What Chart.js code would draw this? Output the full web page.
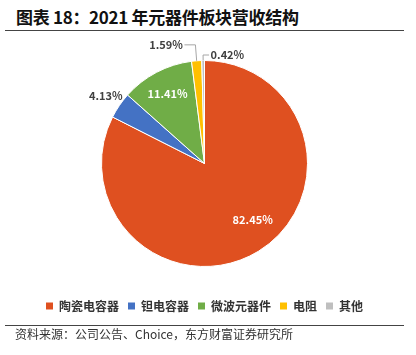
<!DOCTYPE html>
<html>
<head>
<meta charset="utf-8">
<script src="https://cdn.jsdelivr.net/npm/chart.js@4/dist/chart.umd.min.js"></script>
<style>
html,body{margin:0;padding:0;background:#fff;width:416px;height:355px;overflow:hidden;font-family:"Noto Sans CJK SC",sans-serif;}
#title{position:absolute;left:16px;top:6px;font-size:17px;font-weight:bold;color:#111;white-space:nowrap;line-height:22px;letter-spacing:-0.3px;}
.rule{position:absolute;left:5px;width:399px;height:1px;background:#444;}
#src{position:absolute;left:15px;top:326px;font-size:12px;color:#333;white-space:nowrap;line-height:16px;}
#c{position:absolute;left:0;top:0;}
</style>
</head>
<body>
<div id="title">图表 18：2021 年元器件板块营收结构</div>
<div class="rule" style="top:30px"></div>
<canvas id="c" width="416" height="355"></canvas>
<div class="rule" style="top:325px"></div>
<div id="src">资料来源：公司公告、Choice，东方财富证券研究所</div>
<script>
const categories = ['陶瓷电容器', '钽电容器', '微波元器件', '电阻', '其他'];
const shares = [82.45, 4.13, 11.41, 1.59, 0.42];
const valueLabels = ['82.45%', '4.13%', '11.41%', '1.59%', '0.42%'];
const colors = ['#DF5020', '#4472C4', '#70AD47', '#FFC000', '#BFBFBF'];

// label placement style per slice (not data)
const labelStyles = [
  {mode: 'inside', frac: 0.47, dist: 0.72, color: '#ffffff'},
  {mode: 'outside', frac: 0.5, dist: 1.16, color: '#404040'},
  {mode: 'inside', frac: 0.5, dist: 0.77, color: '#ffffff'},
  {mode: 'leader', side: -1, elbow: 16, run: 11, color: '#404040'},
  {mode: 'leader', side: 1, elbow: 5.5, run: 6, color: '#404040'}
];

const labelPlugin = {
  id: 'sliceLabels',
  afterDatasetsDraw(chart) {
    const ctx = chart.ctx;
    const meta = chart.getDatasetMeta(0);
    ctx.save();
    ctx.font = 'bold 11px "Noto Sans CJK SC", sans-serif';
    ctx.textBaseline = 'middle';
    meta.data.forEach((arc, i) => {
      const p = arc.getProps(['x', 'y', 'startAngle', 'endAngle', 'outerRadius'], true);
      const st = labelStyles[i];
      const R = p.outerRadius;
      if (st.mode === 'leader') {
        const mid = (p.startAngle + p.endAngle) / 2;
        const x0 = p.x + Math.cos(mid) * R, y0 = p.y + Math.sin(mid) * R;
        const x1 = p.x + Math.cos(mid) * (R + st.elbow), y1 = p.y + Math.sin(mid) * (R + st.elbow);
        const x2 = x1 + st.side * st.run;
        ctx.strokeStyle = '#a6a6a6';
        ctx.lineWidth = 1;
        ctx.beginPath();
        ctx.moveTo(x0, y0);
        ctx.lineTo(x1, y1);
        ctx.lineTo(x2, y1);
        ctx.stroke();
        ctx.fillStyle = st.color;
        ctx.textAlign = st.side < 0 ? 'right' : 'left';
        ctx.fillText(valueLabels[i], x2 + st.side * 1.5, y1);
      } else {
        const a = p.startAngle + (p.endAngle - p.startAngle) * st.frac;
        ctx.fillStyle = st.color;
        ctx.textAlign = 'center';
        ctx.fillText(valueLabels[i], p.x + Math.cos(a) * R * st.dist, p.y + Math.sin(a) * R * st.dist);
      }
    });
    ctx.restore();
  }
};

new Chart(document.getElementById('c'), {
  type: 'pie',
  data: {
    labels: categories,
    datasets: [{
      data: shares,
      backgroundColor: colors,
      borderColor: '#ffffff',
      borderWidth: 1
    }]
  },
  options: {
    responsive: false,
    animation: false,
    radius: 103,
    layout: {padding: {top: 36, bottom: 33, left: 0, right: 7}},
    plugins: {
      tooltip: {enabled: false},
      legend: {
        position: 'bottom',
        labels: {
          boxWidth: 7,
          boxHeight: 7,
          padding: 9,
          color: '#333333',
          font: {size: 12, weight: 'bold', family: '"Noto Sans CJK SC", sans-serif'},
          generateLabels(chart) {
            const items = Chart.overrides.pie.plugins.legend.labels.generateLabels(chart);
            items.forEach(it => { it.lineWidth = 0; it.strokeStyle = it.fillStyle; });
            return items;
          }
        }
      }
    }
  },
  plugins: [labelPlugin]
});
</script>
</body>
</html>
